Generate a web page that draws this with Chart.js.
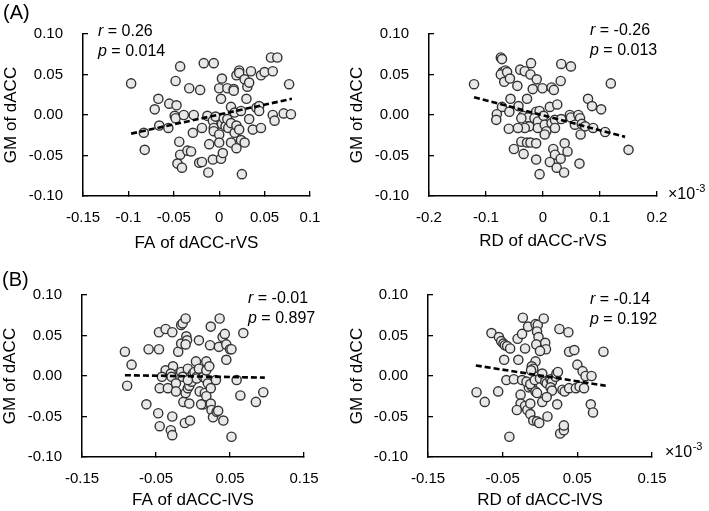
<!DOCTYPE html>
<html lang="en">
<head>
  <meta charset="UTF-8" />
  <title>GM of dACC vs white matter</title>
  <script src="https://cdn.jsdelivr.net/npm/chart.js"></script>
  <style>
    body { margin: 0; background: #fff; }
    #wrap { position: relative; width: 709px; height: 511px; }
    canvas { position: absolute; }
  </style>
</head>
<body>
  <div id="wrap">
    <canvas id="faR" width="355" height="255" style="left:0;top:0"></canvas>
    <canvas id="rdR" width="369" height="255" style="left:340px;top:0"></canvas>
    <canvas id="faL" width="355" height="256" style="left:0;top:255px"></canvas>
    <canvas id="rdL" width="369" height="256" style="left:340px;top:255px"></canvas>
  </div>

  <script>
    const FONT = 'Arial, "Liberation Sans", sans-serif';

    // tick values + labels
    const yTicks = [-0.10, -0.05, 0, 0.05, 0.10];
    const yLabels = ['-0.10', '-0.05', '0.00', '0.05', '0.10'];
    const faRTicks = [-0.15, -0.1, -0.05, 0, 0.05, 0.1];
    const faRLabels = ['-0.15', '-0.1', '-0.05', '0', '0.05', '0.1'];
    const rdRTicks = [-0.2, -0.1, 0, 0.1, 0.2];
    const rdRLabels = ['-0.2', '-0.1', '0', '0.1', '0.2'];
    const lvsTicks = [-0.15, -0.05, 0.05, 0.15];
    const lvsLabels = ['-0.15', '-0.05', '0.05', '0.15'];

    // stats text
    const rStat = ['0.26', '-0.26', '-0.01', '-0.14'];
    const pStat = ['0.014', '0.013', '0.897', '0.192'];

    // (A) FA of dACC-rVS
    const faRX = [-0.097, -0.083, -0.082, -0.067, -0.071, -0.066, -0.056, -0.055, -0.047, -0.049, -0.048, -0.048, -0.043, -0.044, -0.043, -0.046, -0.041, -0.039, -0.035, -0.031, -0.033, -0.028, -0.029, -0.022, -0.019, -0.021, -0.019, -0.017, -0.013, -0.012, -0.011, -0.007, -0.007, -0.006, -0.006, -0.006, -0.004, 0.000, 0.000, 0.000, 0.002, 0.002, 0.003, 0.003, 0.004, 0.005, 0.007, 0.009, 0.009, 0.010, 0.013, 0.013, 0.013, 0.016, 0.016, 0.017, 0.017, 0.019, 0.019, 0.019, 0.022, 0.022, 0.022, 0.024, 0.024, 0.025, 0.028, 0.028, 0.030, 0.031, 0.033, 0.033, 0.035, 0.037, 0.041, 0.044, 0.044, 0.046, 0.046, 0.050, 0.057, 0.059, 0.059, 0.061, 0.064, 0.071, 0.077, 0.079];
    const faRY = [0.039, -0.022, -0.043, 0.020, 0.007, -0.013, -0.016, 0.014, 0.012, -0.001, -0.004, 0.042, 0.060, -0.033, -0.049, -0.060, -0.065, 0.000, -0.044, -0.045, 0.033, 0.000, -0.022, -0.059, -0.058, 0.031, -0.016, 0.064, -0.001, -0.071, -0.036, -0.007, -0.055, 0.064, -0.016, -0.020, -0.002, 0.033, -0.024, -0.034, 0.020, -0.054, 0.045, -0.011, -0.047, -0.004, -0.014, 0.033, -0.005, -0.016, 0.010, -0.010, -0.034, 0.032, 0.030, 0.003, -0.022, 0.049, -0.013, -0.041, 0.055, 0.052, -0.018, 0.005, -0.031, -0.073, 0.044, -0.034, 0.020, 0.035, 0.040, -0.005, 0.054, -0.018, 0.009, 0.011, 0.005, 0.049, -0.016, 0.053, 0.071, 0.054, 0.000, -0.007, 0.071, 0.002, 0.038, 0.001];
    const faRFitX = [-0.097, 0.080];
    const faRFitY = [-0.023, 0.020];

    // (A) RD of dACC-rVS (x10^-3)
    const rdRX = [-0.121, -0.074, -0.072, -0.071, -0.066, -0.074, -0.063, -0.068, -0.058, -0.040, -0.032, -0.021, -0.022, -0.011, -0.045, -0.018, -0.001, 0.015, 0.019, 0.031, 0.032, 0.049, 0.119, -0.028, -0.057, -0.072, -0.043, -0.059, -0.081, -0.082, 0.012, 0.025, 0.079, 0.086, 0.102, -0.012, -0.006, -0.035, -0.026, -0.038, -0.024, -0.032, -0.044, -0.060, -0.015, -0.009, 0.001, -0.009, 0.003, 0.006, 0.003, 0.015, 0.021, 0.032, 0.047, 0.049, 0.062, 0.065, 0.056, 0.068, 0.074, 0.066, 0.088, 0.109, 0.150, -0.038, -0.028, -0.022, -0.012, -0.051, -0.034, -0.012, -0.006, 0.018, 0.021, 0.012, 0.024, 0.031, 0.037, 0.038, 0.043, 0.064, 0.021];
    const rdRY = [0.038, 0.071, 0.069, 0.053, 0.055, 0.050, 0.053, 0.041, 0.045, 0.056, 0.054, 0.064, 0.050, 0.044, 0.036, 0.032, 0.033, 0.034, 0.031, 0.042, 0.063, 0.060, 0.039, 0.020, 0.020, 0.010, 0.011, 0.004, 0.001, -0.006, 0.010, 0.013, 0.020, 0.011, 0.007, 0.004, 0.005, -0.001, -0.003, -0.004, -0.014, -0.016, -0.016, -0.017, -0.004, -0.008, -0.001, -0.016, -0.012, -0.020, -0.024, -0.010, -0.006, -0.005, 0.000, -0.003, 0.000, -0.004, -0.012, -0.011, -0.014, -0.024, -0.016, -0.021, -0.043, -0.033, -0.034, -0.034, -0.035, -0.042, -0.048, -0.055, -0.073, -0.042, -0.049, -0.058, -0.065, -0.054, -0.071, -0.035, -0.045, -0.060, -0.016];
    const rdRFitX = [-0.121, 0.144];
    const rdRFitY = [0.022, -0.027];

    // (B) FA of dACC-lVS
    const faLX = [-0.092, -0.083, -0.089, -0.063, -0.060, -0.046, -0.037, -0.028, -0.046, -0.047, -0.045, -0.028, -0.030, -0.028, -0.045, -0.037, -0.034, -0.027, -0.042, -0.030, -0.029, -0.023, -0.023, -0.020, -0.016, -0.016, -0.014, -0.010, -0.009, -0.008, -0.010, -0.016, -0.014, -0.013, -0.011, -0.004, -0.005, -0.010, -0.007, -0.005, -0.002, -0.007, 0.000, 0.002, 0.005, 0.005, -0.007, 0.008, 0.004, 0.008, 0.014, 0.017, 0.018, 0.009, 0.016, 0.020, 0.024, 0.018, 0.022, 0.014, 0.011, 0.018, 0.024, 0.025, 0.027, 0.032, 0.034, 0.024, 0.023, 0.036, 0.035, 0.040, 0.043, 0.045, 0.050, 0.052, 0.045, 0.031, 0.041, 0.052, 0.068, 0.059, 0.064, 0.085, 0.095];
    const faLY = [0.030, 0.014, -0.012, -0.035, 0.033, 0.054, 0.058, 0.054, 0.033, -0.046, -0.062, -0.050, -0.067, -0.073, -0.015, 0.007, -0.015, 0.012, -0.001, 0.003, -0.001, -0.009, -0.019, 0.030, 0.040, 0.063, 0.065, 0.071, 0.049, 0.044, 0.039, 0.005, -0.001, -0.032, -0.058, -0.055, -0.034, -0.021, -0.015, -0.012, -0.007, 0.009, 0.003, 0.005, -0.001, -0.003, -0.005, 0.044, 0.018, 0.009, -0.001, -0.003, 0.007, -0.019, -0.021, -0.009, -0.015, 0.018, 0.012, -0.035, -0.035, -0.025, -0.034, -0.042, -0.051, -0.044, -0.043, 0.061, 0.038, 0.071, 0.036, 0.048, 0.052, 0.039, 0.033, 0.033, 0.020, -0.005, -0.055, -0.075, 0.053, -0.005, -0.024, -0.032, -0.020];
    const faLFitX = [-0.092, 0.097];
    const faLFitY = [0.001, -0.002];

    // (B) RD of dACC-lVS (x10^-3)
    const rdLX = [-0.085, -0.074, -0.065, -0.056, -0.055, -0.052, -0.049, -0.047, -0.044, -0.040, -0.048, -0.045, -0.035, -0.030, -0.024, -0.023, -0.029, -0.020, -0.016, -0.006, -0.003, -0.004, -0.002, 0.005, -0.005, 0.007, 0.008, 0.000, -0.006, -0.011, -0.009, -0.012, -0.024, -0.026, -0.026, -0.020, -0.031, -0.017, -0.013, -0.009, -0.004, -0.001, -0.015, -0.011, -0.006, -0.004, -0.018, -0.013, -0.007, 0.000, 0.003, 0.007, 0.009, 0.014, 0.016, 0.021, 0.022, 0.024, 0.014, 0.016, 0.003, 0.009, 0.010, 0.023, 0.026, 0.038, 0.027, 0.032, 0.032, 0.030, 0.033, 0.039, 0.039, 0.046, 0.050, 0.048, 0.053, 0.059, 0.057, 0.061, 0.069, 0.068, 0.071, 0.085, -0.013, -0.041];
    const rdLY = [-0.020, -0.032, 0.053, -0.019, 0.048, 0.043, 0.040, 0.038, 0.037, 0.034, 0.020, -0.005, -0.004, 0.046, 0.052, 0.072, 0.020, 0.034, 0.061, 0.064, 0.063, 0.055, 0.048, 0.071, 0.039, 0.041, 0.033, 0.031, 0.018, 0.012, 0.009, 0.007, -0.005, -0.023, -0.034, -0.037, -0.042, -0.042, -0.047, -0.055, -0.056, -0.058, -0.014, -0.013, -0.019, -0.021, -0.007, -0.010, -0.005, -0.003, 0.003, -0.007, -0.009, -0.004, -0.007, -0.001, 0.003, 0.005, -0.014, -0.018, -0.032, -0.026, -0.050, -0.035, 0.058, 0.054, -0.071, -0.067, -0.061, -0.017, -0.019, -0.015, 0.030, 0.032, 0.014, -0.015, -0.013, -0.015, 0.006, 0.000, 0.000, -0.035, -0.045, 0.030, -0.034, -0.075];
    const rdLFitX = [-0.086, 0.088];
    const rdLFitY = [0.013, -0.012];

    function drawStat(ctx, sym, val, x, y) {
      ctx.font = 'italic 16px ' + FONT;
      ctx.fillText(sym, x, y);
      const w = ctx.measureText(sym).width;
      ctx.font = '16px ' + FONT;
      ctx.fillText(' = ' + val, x + w, y);
    }

    function textPlugin(p) {
      return {
        id: 'panelText',
        afterDraw(chart) {
          const ctx = chart.ctx;
          ctx.save();
          ctx.fillStyle = '#000';
          ctx.textBaseline = 'middle';
          ctx.textAlign = 'left';
          drawStat(ctx, 'r', p.r, p.statX, p.statY);
          drawStat(ctx, 'p', p.p, p.statX, p.statY + 19.5);
          if (p.exp) {
            // x10^-3 multiplier next to the x axis end
            ctx.font = '16px ' + FONT;
            ctx.fillText('\u00d710', p.exp[0], p.exp[1]);
            const w = ctx.measureText('\u00d710').width;
            ctx.font = '11px ' + FONT;
            ctx.fillText('-3', p.exp[0] + w + 0.5, p.exp[1] - 6);
          }
          if (p.tag) {
            ctx.font = '20px ' + FONT;
            ctx.fillText(p.tag, p.tagPos[0], p.tagPos[1]);
          }
          ctx.restore();
        }
      };
    }

    function panel(id, p) {
      new Chart(document.getElementById(id), {
        type: 'scatter',
        data: {
          datasets: [
            {
              type: 'line',
              data: p.fitX.map((x, i) => ({ x: x, y: p.fitY[i] })),
              borderColor: '#000',
              borderWidth: 2.6,
              borderDash: [6, 3],
              pointRadius: 0,
              fill: false,
              order: 0
            },
            {
              data: p.x.map((x, i) => ({ x: x, y: p.y[i] })),
              pointRadius: 4.6,
              pointBackgroundColor: '#e8e8e8',
              pointBorderColor: '#333',
              pointBorderWidth: 1.4,
              order: 1
            }
          ]
        },
        options: {
          responsive: false,
          animation: false,
          events: [],
          layout: { padding: { left: 0, top: p.top, right: p.right, bottom: 0 } },
          plugins: { legend: { display: false }, tooltip: { enabled: false } },
          scales: {
            x: {
              type: 'linear',
              min: p.xTicks[0],
              max: p.xTicks[p.xTicks.length - 1],
              afterFit: s => { s.height = p.xH; },
              afterBuildTicks: s => { s.ticks = p.xTicks.map(v => ({ value: v })); },
              ticks: {
                callback: (v, i) => p.xLabels[i],
                font: { family: FONT, size: 15 },
                color: '#000',
                padding: 18,
                maxRotation: 0,
                autoSkip: false
              },
              grid: { drawOnChartArea: false, drawTicks: true, tickLength: -5, color: '#000', lineWidth: 1.3 },
              border: { color: '#000', width: 1.5 },
              title: {
                display: true,
                text: p.xTitle,
                color: '#000',
                font: { family: FONT, size: 17 },
                padding: { top: 0, bottom: p.xTitlePad }
              }
            },
            y: {
              type: 'linear',
              min: -0.10,
              max: 0.10,
              afterFit: s => { s.width = p.yW; },
              afterBuildTicks: s => { s.ticks = yTicks.map(v => ({ value: v })); },
              ticks: {
                callback: (v, i) => yLabels[i],
                font: { family: FONT, size: 15 },
                color: '#000',
                padding: 25,
                autoSkip: false
              },
              grid: { drawOnChartArea: false, drawTicks: true, tickLength: -5, color: '#000', lineWidth: 1.3 },
              border: { color: '#000', width: 1.5 },
              title: {
                display: true,
                text: 'GM of dACC',
                color: '#000',
                font: { family: FONT, size: 17 },
                padding: { top: p.yTitlePad, bottom: 0 }
              }
            }
          }
        },
        plugins: [textPlugin(p)]
      });
    }

    panel('faR', {
      x: faRX, y: faRY, fitX: faRFitX, fitY: faRFitY,
      xTicks: faRTicks, xLabels: faRLabels, xTitle: 'FA of dACC-rVS',
      top: 33, right: 45, yW: 83, xH: 59, yTitlePad: 1, xTitlePad: 1.8,
      r: rStat[0], p: pStat[0], statX: 98, statY: 32,
      tag: '(A)', tagPos: [3, 13]
    });

    panel('rdR', {
      x: rdRX, y: rdRY, fitX: rdRFitX, fitY: rdRFitY,
      xTicks: rdRTicks, xLabels: rdRLabels, xTitle: 'RD of dACC-rVS',
      top: 33, right: 52, yW: 89, xH: 59, yTitlePad: 6.8, xTitlePad: 3.8,
      r: rStat[1], p: pStat[1], statX: 250, statY: 31,
      exp: [328, 195]
    });

    panel('faL', {
      x: faLX, y: faLY, fitX: faLFitX, fitY: faLFitY,
      xTicks: lvsTicks, xLabels: lvsLabels, xTitle: 'FA of dACC-lVS',
      top: 40, right: 51, yW: 82, xH: 54, yTitlePad: 0, xTitlePad: 0.5,
      r: rStat[2], p: pStat[2], statX: 248, statY: 44,
      tag: '(B)', tagPos: [2, 25]
    });

    panel('rdL', {
      x: rdLX, y: rdLY, fitX: rdLFitX, fitY: rdLFitY,
      xTicks: lvsTicks, xLabels: lvsLabels, xTitle: 'RD of dACC-lVS',
      top: 40, right: 57, yW: 88, xH: 54, yTitlePad: 6.8, xTitlePad: 0,
      r: rStat[3], p: pStat[3], statX: 250, statY: 45,
      exp: [325, 198]
    });
  </script>
</body>
</html>
